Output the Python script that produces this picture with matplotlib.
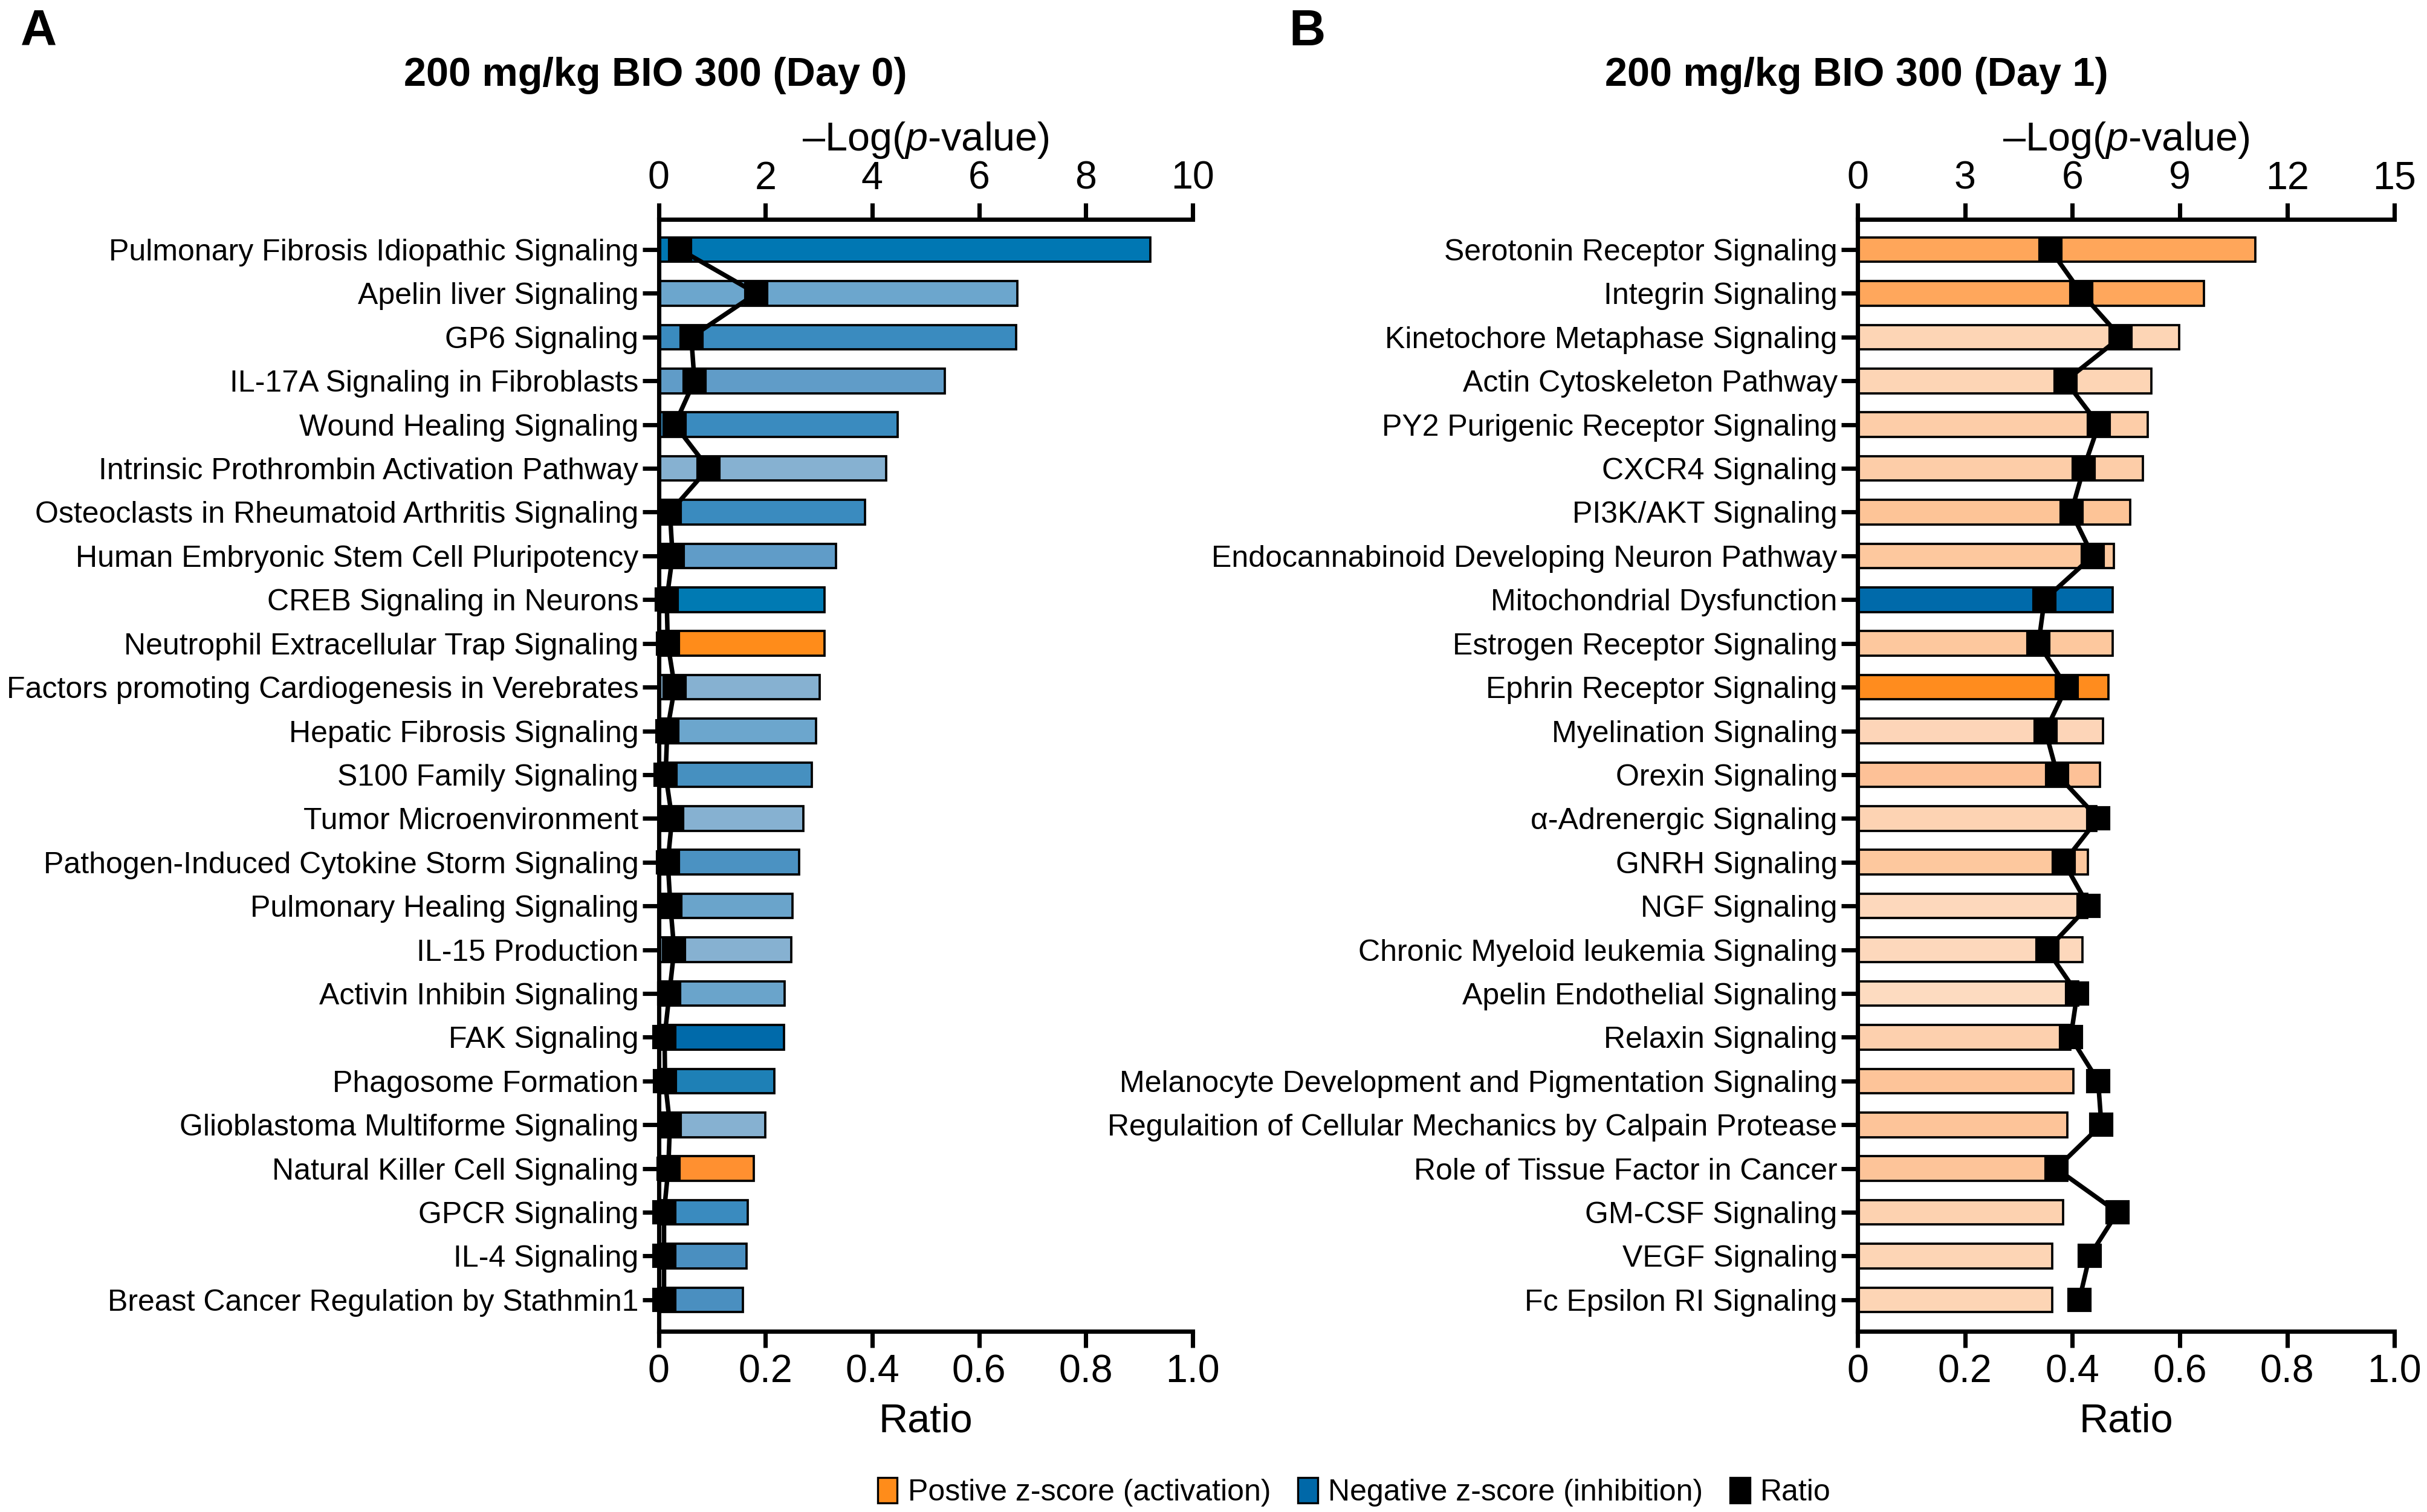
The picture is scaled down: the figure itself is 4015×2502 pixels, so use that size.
"""
IPA canonical pathways for 200 mg/kg BIO 300, Day 0 (A) and Day 1 (B).
Bars: -Log(p-value) on the top axis, black squares: ratio on the bottom axis.
"""
import matplotlib
matplotlib.use("Agg")
import matplotlib.pyplot as plt
from matplotlib.patches import Patch

plt.rcParams["font.family"] = ["Liberation Sans", "DejaVu Sans"]
plt.rcParams["mathtext.fontset"] = "custom"
plt.rcParams["mathtext.rm"] = "Liberation Sans"
plt.rcParams["mathtext.it"] = "Liberation Sans:italic"

# ---- data: Day 0 -------------------------------------------------------
DAY0_PATHWAYS = [
    "Pulmonary Fibrosis Idiopathic Signaling",
    "Apelin liver Signaling",
    "GP6 Signaling",
    "IL-17A Signaling in Fibroblasts",
    "Wound Healing Signaling",
    "Intrinsic Prothrombin Activation Pathway",
    "Osteoclasts in Rheumatoid Arthritis Signaling",
    "Human Embryonic Stem Cell Pluripotency",
    "CREB Signaling in Neurons",
    "Neutrophil Extracellular Trap Signaling",
    "Factors promoting Cardiogenesis in Verebrates",
    "Hepatic Fibrosis Signaling",
    "S100 Family Signaling",
    "Tumor Microenvironment",
    "Pathogen-Induced Cytokine Storm Signaling",
    "Pulmonary Healing Signaling",
    "IL-15 Production",
    "Activin Inhibin Signaling",
    "FAK Signaling",
    "Phagosome Formation",
    "Glioblastoma Multiforme Signaling",
    "Natural Killer Cell Signaling",
    "GPCR Signaling",
    "IL-4 Signaling",
    "Breast Cancer Regulation by Stathmin1",
]
DAY0_LOGP = [9.21, 6.72, 6.70, 5.36, 4.48, 4.26, 3.86, 3.32, 3.11, 3.11,
             3.02, 2.95, 2.87, 2.71, 2.63, 2.51, 2.48, 2.36, 2.35, 2.17,
             2.00, 1.78, 1.67, 1.65, 1.58]
DAY0_RATIO = [0.040, 0.183, 0.061, 0.067, 0.030, 0.093, 0.021, 0.026, 0.015, 0.017,
              0.030, 0.016, 0.013, 0.025, 0.017, 0.022, 0.029, 0.020, 0.011, 0.012,
              0.021, 0.018, 0.010, 0.010, 0.010]
DAY0_COLORS = ["#0077B3", "#6CA6CD", "#3A8BBF", "#609CC8", "#3A8BBF",
               "#86B1D1", "#3A8BBF", "#609CC8", "#007AB3", "#FF8C1A",
               "#86B1D1", "#6CA6CD", "#4690C0", "#86B1D1", "#4B92C2",
               "#6AA4CB", "#86B1D1", "#6AA4CB", "#006AAA", "#1E80B6",
               "#86B1D1", "#FF9030", "#3A8BBF", "#4A8FC0", "#4A8FC0"]

# ---- data: Day 1 -------------------------------------------------------
DAY1_PATHWAYS = [
    "Serotonin Receptor Signaling",
    "Integrin Signaling",
    "Kinetochore Metaphase Signaling",
    "Actin Cytoskeleton Pathway",
    "PY2 Purigenic Receptor Signaling",
    "CXCR4 Signaling",
    "PI3K/AKT Signaling",
    "Endocannabinoid Developing Neuron Pathway",
    "Mitochondrial Dysfunction",
    "Estrogen Receptor Signaling",
    "Ephrin Receptor Signaling",
    "Myelination Signaling",
    "Orexin Signaling",
    "α-Adrenergic Signaling",
    "GNRH Signaling",
    "NGF Signaling",
    "Chronic Myeloid leukemia Signaling",
    "Apelin Endothelial Signaling",
    "Relaxin Signaling",
    "Melanocyte Development and Pigmentation Signaling",
    "Regulaition of Cellular Mechanics by Calpain Protease",
    "Role of Tissue Factor in Cancer",
    "GM-CSF Signaling",
    "VEGF Signaling",
    "Fc Epsilon RI Signaling",
]
DAY1_LOGP = [11.11, 9.67, 8.99, 8.20, 8.11, 7.97, 7.61, 7.16, 7.12, 7.12,
             7.01, 6.85, 6.77, 6.67, 6.43, 6.41, 6.28, 6.17, 5.95, 6.03,
             5.86, 5.86, 5.74, 5.44, 5.44]
DAY1_RATIO = [0.359, 0.417, 0.490, 0.387, 0.449, 0.421, 0.398, 0.438, 0.348, 0.337,
              0.389, 0.350, 0.372, 0.448, 0.384, 0.430, 0.353, 0.409, 0.397, 0.448,
              0.454, 0.370, 0.484, 0.432, 0.413]
DAY1_COLORS = ["#FFA65A", "#FFA75C", "#FDD5B5", "#FDD5B5", "#FDCDA8",
               "#FDCDA8", "#FDC497", "#FDC89E", "#006AAA", "#FDC89E",
               "#FF8C1E", "#FDD5B8", "#FDC197", "#FDD3B3", "#FDC89E",
               "#FDD8BC", "#FDD8BC", "#FDDBC0", "#FDD0AE", "#FDC499",
               "#FDC499", "#FDC499", "#FDD2B0", "#FDD5B5", "#FDD5B5"]

DAY0_LOGP_TICKS = [0, 2, 4, 6, 8, 10]
DAY1_LOGP_TICKS = [0, 3, 6, 9, 12, 15]
RATIO_TICKS = [0, 0.2, 0.4, 0.6, 0.8, 1.0]
RATIO_TICK_LABELS = ["0", "0.2", "0.4", "0.6", "0.8", "1.0"]

LEGEND_LABELS = ["Postive z-score (activation)", "Negative z-score (inhibition)", "Ratio"]
LEGEND_COLORS = ["#FF8C1A", "#0068A8", "black"]

LW = 1.7


def draw_panel(fig, rect, names, logp, ratio, colors, logp_ticks):
    ax = fig.add_axes(rect)
    y = list(range(len(names)))
    ax.barh(y, logp, height=0.56, color=colors, edgecolor="black", linewidth=0.9, zorder=2)
    ax.set_xlim(logp_ticks[0], logp_ticks[-1])
    ax.set_ylim(len(names) - 1 + 0.72, -0.69)
    ax.set_yticks(y)
    ax.set_yticklabels(names, fontsize=12)

    ax2 = ax.twiny()
    ax2.plot(ratio, y, color="black", linewidth=1.8, marker="s", markersize=8.8,
             markerfacecolor="black", markeredgecolor="black", clip_on=False, zorder=3)
    ax2.set_xlim(0, 1.0)
    ax2.set_xticks(RATIO_TICKS)
    ax2.set_xticklabels(RATIO_TICK_LABELS)
    ax2.xaxis.set_ticks_position("bottom")
    ax2.xaxis.set_label_position("bottom")
    ax2.set_xlabel("Ratio", fontsize=16, labelpad=5)

    ax.xaxis.set_ticks_position("top")
    ax.xaxis.set_label_position("top")
    ax.set_xticks(logp_ticks)
    ax.set_xlabel(r"–Log($\mathit{p}$-value)", fontsize=16, labelpad=4)

    for a in (ax, ax2):
        a.spines["right"].set_visible(False)
        for side in ("top", "bottom", "left"):
            a.spines[side].set_linewidth(LW)
        a.tick_params(axis="x", labelsize=15.5, length=6.5, width=LW, pad=2.5)
    ax.spines["bottom"].set_visible(False)
    ax2.spines["top"].set_visible(False)
    ax2.spines["left"].set_visible(False)
    ax.tick_params(axis="y", length=6.5, width=LW, pad=1.5)
    return ax, ax2


def main():
    fig = plt.figure(figsize=(4015 / 300, 2502 / 300), dpi=300)

    draw_panel(fig, [0.2714, 0.1195, 0.2200, 0.7354],
               DAY0_PATHWAYS, DAY0_LOGP, DAY0_RATIO, DAY0_COLORS, DAY0_LOGP_TICKS)
    draw_panel(fig, [0.7654, 0.1195, 0.2212, 0.7354],
               DAY1_PATHWAYS, DAY1_LOGP, DAY1_RATIO, DAY1_COLORS, DAY1_LOGP_TICKS)

    fig.text(0.270, 0.950, "200 mg/kg BIO 300 (Day 0)", ha="center", va="center",
             fontsize=16, fontweight="bold")
    fig.text(0.765, 0.950, "200 mg/kg BIO 300 (Day 1)", ha="center", va="center",
             fontsize=16, fontweight="bold")
    fig.text(0.0085, 0.979, "A", ha="left", va="center", fontsize=20, fontweight="bold")
    fig.text(0.531, 0.979, "B", ha="left", va="center", fontsize=20, fontweight="bold")

    handles = [Patch(facecolor=c, edgecolor="black", linewidth=0.8) for c in LEGEND_COLORS]
    fig.legend(handles, LEGEND_LABELS, loc="center", bbox_to_anchor=(0.558, 0.013),
               ncol=3, frameon=False, fontsize=12, handlelength=0.65, handleheight=0.9,
               handletextpad=0.35, columnspacing=0.9, borderaxespad=0)

    fig.savefig("out.png", dpi=300)
    plt.close(fig)


if __name__ == "__main__":
    main()
